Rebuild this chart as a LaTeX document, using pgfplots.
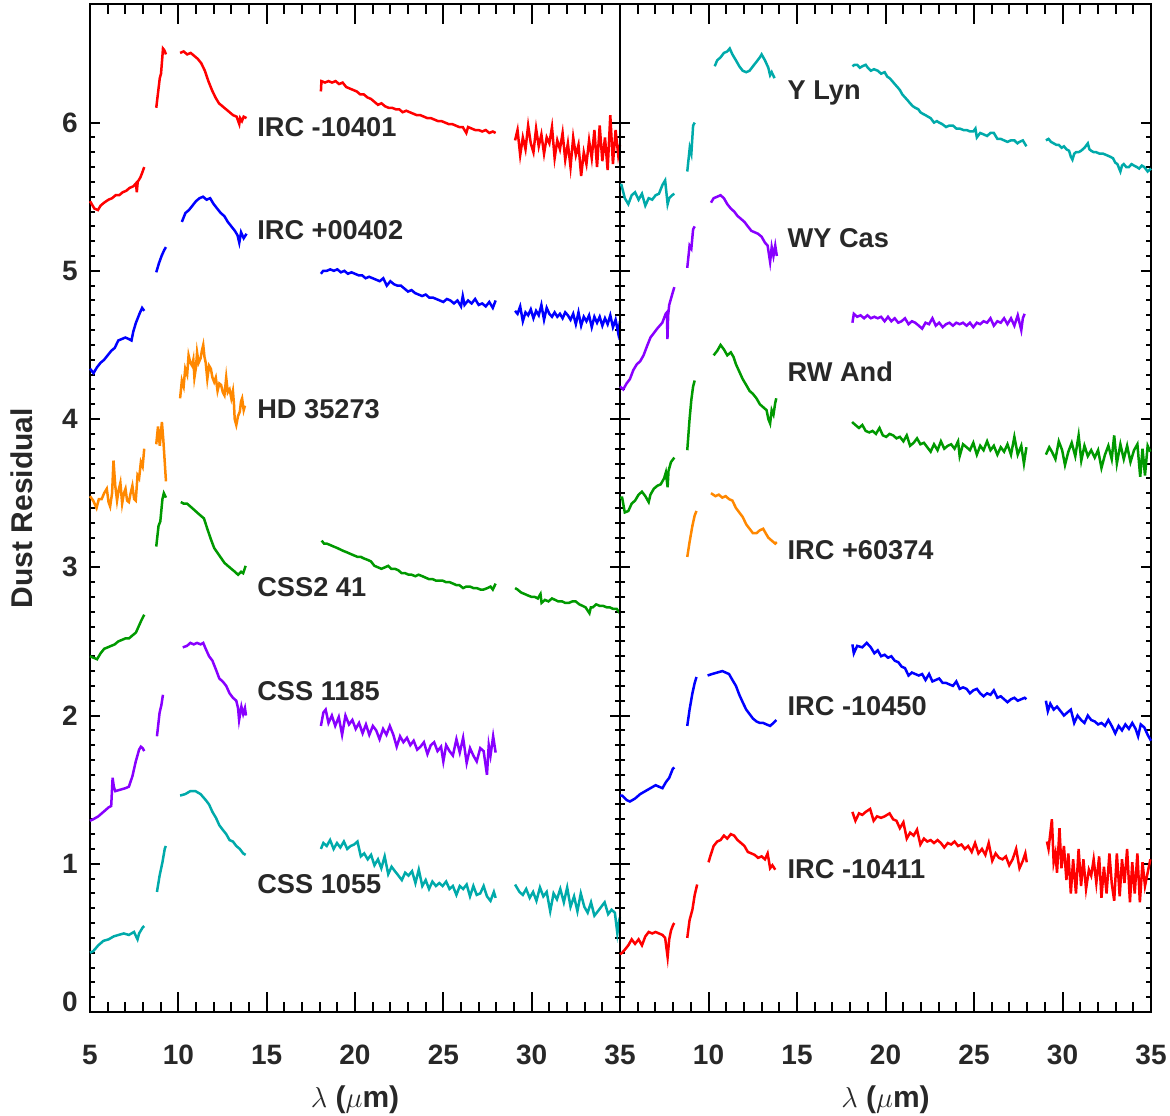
\documentclass[border=0pt]{standalone}
\usepackage{fontspec}
\setmainfont{Liberation Sans}
\usepackage{pgfplots}
\pgfplotsset{compat=1.18}

\definecolor{sred}{RGB}{255,0,0}
\definecolor{sblue}{RGB}{0,0,255}
\definecolor{sorange}{RGB}{255,136,0}
\definecolor{sgreen}{RGB}{0,153,0}
\definecolor{spurple}{RGB}{136,0,255}
\definecolor{steal}{RGB}{0,170,170}
\definecolor{txt}{RGB}{40,40,40}

\newcommand{\lbl}{\fontsize{13.6}{16}\selectfont\bfseries}
\newcommand{\tlbl}{\fontsize{14}{16}\selectfont\bfseries}
\newcommand{\albl}{\fontsize{15}{18}\selectfont\bfseries}

\tikzset{slabel/.style={font=\lbl, text=txt, anchor=base west, inner sep=0pt}}

\pgfplotsset{
  frame/.style={
    scale only axis, height=504pt,
    xmin=5, xmax=35, ymin=0, ymax=6.8,
    xtick={5,10,...,35}, minor x tick num=4,
    tick pos=both, tick align=inside,
    every tick/.style={black, line width=1pt},
  },
  panel/.style={
    frame,
    ytick={0,...,6}, minor y tick num=9,
    xticklabel pos=left, yticklabel pos=left,
    major tick length=5pt, minor tick length=2.5pt,
    axis line style={line width=1pt},
    ticklabel style={font=\tlbl, text=txt},
    /pgf/number format/assume math mode=true,
    xticklabel style={anchor=center, yshift=-21.5pt},
    yticklabel style={anchor=east, inner sep=0pt, xshift=-6pt},
    unbounded coords=jump,
    clip=false,
    xlabel={$\lambda$ ($\mu$m)},
    xlabel style={font=\albl, text=txt, at={(axis description cs:0.5,-0.0873)}, anchor=center},
    every axis plot/.append style={line width=1.25pt},
  },
  % long x ticks only (x ticks are twice as long as y ticks)
  xticks/.style={
    frame,
    ytick=\empty, xticklabels={},
    major tick length=10pt, minor tick length=5pt,
    axis line style={draw=none},
  },
}

\begin{document}
\begin{tikzpicture}
\begin{axis}[panel, name=L, width=265pt,
  yticklabels={,1,2,3,4,5,6},
  ylabel={Dust Residual},
  ylabel style={font=\albl, text=txt, at={(axis description cs:-0.1283,0.5)}, anchor=center},
]
% IRC -10401
\addplot[sred] coordinates {
(5.0,5.47) (5.1,5.45) (5.25,5.42) (5.45,5.41) (5.6,5.44) (5.8,5.46) (6.05,5.48) (6.25,5.49) (6.45,5.51) (6.65,5.51) (6.85,5.53) (7.05,5.54) (7.25,5.56) (7.45,5.57) (7.6,5.59) (7.65,5.53) (7.7,5.60) (7.85,5.63) (7.95,5.66) (8.07,5.70)
(8.4,nan)
(8.75,6.10) (8.85,6.20) (8.95,6.30) (9.02,6.33) (9.1,6.45) (9.13,6.50) (9.2,6.49) (9.3,6.46)
(9.7,nan)
(10.1,6.47) (10.3,6.48) (10.5,6.46) (10.7,6.47) (10.9,6.45) (11.1,6.43) (11.3,6.40) (11.5,6.35) (11.7,6.28) (11.9,6.22) (12.1,6.17) (12.3,6.13) (12.5,6.11) (12.7,6.09) (12.9,6.07) (13.1,6.05) (13.3,6.04) (13.45,5.99) (13.5,6.03) (13.6,6.01) (13.7,6.04) (13.86,6.03)
(16,nan)
(18.07,6.21) (18.1,6.28) (18.3,6.27) (18.5,6.28) (18.7,6.27) (18.9,6.28) (19.1,6.26) (19.3,6.27) (19.5,6.24) (19.7,6.23) (19.9,6.22) (20.1,6.21) (20.3,6.19) (20.5,6.19) (20.7,6.17) (20.9,6.16) (21.1,6.14) (21.3,6.12) (21.5,6.13) (21.7,6.11) (21.9,6.10) (22.1,6.10) (22.3,6.09) (22.5,6.09) (22.7,6.07) (22.9,6.08) (23.1,6.07) (23.3,6.06) (23.5,6.05) (23.7,6.05) (23.9,6.04) (24.1,6.03) (24.3,6.03) (24.5,6.02) (24.7,6.01) (24.9,6.01) (25.1,6.00) (25.3,5.99) (25.5,5.99) (25.7,5.98) (25.9,5.97) (26.1,5.97) (26.3,5.93) (26.4,5.97) (26.6,5.96) (26.8,5.95) (27.0,5.95) (27.2,5.94) (27.4,5.95) (27.6,5.93) (27.8,5.94) (27.96,5.93)
(28.5,nan)
(29.06,5.88) (29.2,5.95) (29.35,5.78) (29.5,5.90) (29.65,5.82) (29.8,5.98) (29.95,5.86) (30.1,5.80) (30.25,5.96) (30.4,5.84) (30.55,5.92) (30.7,5.79) (30.85,5.90) (31.0,5.86) (31.15,5.97) (31.3,5.76) (31.45,5.88) (31.6,5.82) (31.75,5.93) (31.9,5.75) (32.05,5.86) (32.2,5.70) (32.35,5.90) (32.5,5.78) (32.65,5.85) (32.8,5.64) (32.95,5.80) (33.1,5.72) (33.25,5.88) (33.4,5.76) (33.55,5.95) (33.7,5.70) (33.85,5.98) (34.0,5.74) (34.15,5.90) (34.3,5.68) (34.45,6.05) (34.6,5.72) (34.75,5.95) (34.9,5.78) (35.0,5.85)
};
% IRC +00402
\addplot[sblue] coordinates {
(5.0,4.34) (5.2,4.31) (5.4,4.35) (5.6,4.38) (5.8,4.40) (6.0,4.43) (6.2,4.46) (6.4,4.48) (6.6,4.53) (6.8,4.54) (7.0,4.55) (7.2,4.54) (7.35,4.53) (7.45,4.59) (7.6,4.65) (7.8,4.71) (7.95,4.75) (8.07,4.73)
(8.4,nan)
(8.75,4.99) (8.9,5.05) (9.05,5.10) (9.2,5.14) (9.3,5.16)
(9.7,nan)
(10.2,5.33) (10.4,5.39) (10.6,5.41) (10.8,5.44) (11.0,5.47) (11.2,5.49) (11.4,5.50) (11.6,5.48) (11.8,5.49) (12.0,5.45) (12.2,5.42) (12.4,5.39) (12.6,5.37) (12.8,5.33) (13.0,5.30) (13.2,5.27) (13.35,5.24) (13.45,5.19) (13.55,5.26) (13.7,5.22) (13.86,5.25)
(16,nan)
(18.07,4.98) (18.2,5.00) (18.4,5.00) (18.6,5.01) (18.8,5.00) (19.0,5.01) (19.2,4.99) (19.4,5.00) (19.6,4.98) (19.8,4.99) (20.0,4.98) (20.2,4.97) (20.4,4.97) (20.6,4.95) (20.8,4.96) (21.0,4.95) (21.2,4.94) (21.4,4.93) (21.6,4.95) (21.8,4.90) (22.0,4.93) (22.2,4.91) (22.4,4.90) (22.6,4.90) (22.8,4.88) (23.0,4.86) (23.2,4.87) (23.4,4.85) (23.6,4.84) (23.8,4.83) (24.0,4.84) (24.2,4.82) (24.4,4.82) (24.6,4.81) (24.8,4.80) (25.0,4.79) (25.2,4.81) (25.4,4.80) (25.6,4.78) (25.8,4.80) (26.0,4.76) (26.1,4.83) (26.2,4.77) (26.4,4.80) (26.6,4.78) (26.8,4.81) (27.0,4.77) (27.2,4.78) (27.4,4.76) (27.6,4.79) (27.8,4.75) (27.96,4.80)
(28.5,nan)
(29.06,4.73) (29.2,4.71) (29.35,4.76) (29.5,4.66) (29.65,4.72) (29.8,4.70) (29.95,4.74) (30.1,4.68) (30.25,4.73) (30.4,4.70) (30.55,4.77) (30.7,4.67) (30.85,4.75) (31.0,4.71) (31.15,4.69) (31.3,4.72) (31.45,4.69) (31.6,4.71) (31.75,4.68) (31.9,4.72) (32.05,4.70) (32.2,4.67) (32.35,4.71) (32.5,4.64) (32.65,4.72) (32.8,4.63) (32.95,4.69) (33.1,4.66) (33.25,4.70) (33.4,4.62) (33.55,4.69) (33.7,4.65) (33.85,4.69) (34.0,4.63) (34.15,4.68) (34.3,4.64) (34.45,4.70) (34.6,4.62) (34.75,4.67) (34.9,4.58) (35.0,4.66)
};
% HD 35273
\addplot[sorange] coordinates {
(5.0,3.48) (5.18,3.45) (5.37,3.40) (5.5,3.46) (5.66,3.46) (5.8,3.50) (5.95,3.53) (6.05,3.44) (6.14,3.41) (6.25,3.50) (6.33,3.72) (6.43,3.55) (6.53,3.45) (6.62,3.52) (6.72,3.57) (6.82,3.43) (6.92,3.50) (7.01,3.53) (7.1,3.45) (7.20,3.44) (7.3,3.50) (7.40,3.55) (7.5,3.46) (7.59,3.45) (7.69,3.62) (7.78,3.60) (7.88,3.71) (7.98,3.68) (8.07,3.80)
(8.4,nan)
(8.75,3.83) (8.85,3.95) (8.95,3.82) (9.07,3.98) (9.15,3.86) (9.22,3.73) (9.3,3.58)
(9.7,nan)
(10.10,4.14) (10.20,4.26) (10.3,4.22) (10.39,4.34) (10.5,4.30) (10.58,4.43) (10.68,4.38) (10.78,4.36) (10.85,4.40) (10.91,4.28) (11.0,4.35) (11.06,4.45) (11.15,4.38) (11.26,4.41) (11.33,4.46) (11.41,4.50) (11.48,4.42) (11.55,4.38) (11.64,4.27) (11.74,4.36) (11.84,4.34) (11.93,4.28) (12.03,4.25) (12.12,4.28) (12.22,4.19) (12.32,4.24) (12.42,4.23) (12.52,4.18) (12.61,4.16) (12.71,4.28) (12.80,4.18) (12.9,4.20) (13.0,4.14) (13.09,4.19) (13.15,4.10) (13.19,4.00) (13.28,3.96) (13.38,4.02) (13.48,4.05) (13.55,4.12) (13.61,4.14) (13.7,4.06) (13.77,4.09)
};
% CSS2 41
\addplot[sgreen] coordinates {
(5.0,2.40) (5.2,2.39) (5.4,2.38) (5.6,2.42) (5.8,2.45) (6.0,2.46) (6.2,2.47) (6.4,2.48) (6.6,2.50) (6.8,2.51) (7.0,2.52) (7.2,2.52) (7.4,2.54) (7.6,2.56) (7.75,2.60) (7.9,2.64) (8.07,2.68)
(8.4,nan)
(8.75,3.14) (8.88,3.28) (8.98,3.31) (9.1,3.46) (9.18,3.50) (9.3,3.47)
(9.7,nan)
(10.14,3.44) (10.3,3.43) (10.49,3.43) (10.78,3.40) (11.06,3.37) (11.25,3.35) (11.45,3.33) (11.64,3.26) (11.84,3.19) (12.03,3.13) (12.32,3.08) (12.61,3.03) (12.8,3.01) (13.0,2.99) (13.2,2.97) (13.38,2.95) (13.55,2.97) (13.67,2.96) (13.81,3.01)
(16,nan)
(18.11,3.18) (18.25,3.16) (18.4,3.16) (18.6,3.15) (18.79,3.14) (19.0,3.13) (19.17,3.12) (19.35,3.11) (19.56,3.10) (19.75,3.09) (19.95,3.08) (20.15,3.07) (20.33,3.07) (20.5,3.06) (20.72,3.05) (20.9,3.04) (21.1,3.01) (21.3,3.00) (21.49,2.99) (21.7,3.00) (21.88,3.01) (22.05,2.99) (22.26,2.99) (22.45,2.98) (22.65,2.96) (22.85,2.96) (23.03,2.95) (23.2,2.95) (23.42,2.94) (23.6,2.95) (23.81,2.94) (24.0,2.93) (24.19,2.92) (24.4,2.92) (24.58,2.91) (24.8,2.91) (24.96,2.91) (25.15,2.90) (25.35,2.90) (25.55,2.89) (25.74,2.88) (25.9,2.88) (26.12,2.86) (26.3,2.87) (26.51,2.87) (26.7,2.86) (26.89,2.86) (27.1,2.85) (27.28,2.85) (27.5,2.86) (27.67,2.87) (27.8,2.85) (27.96,2.89)
(28.5,nan)
(29.06,2.86) (29.2,2.85) (29.4,2.83) (29.6,2.82) (29.79,2.81) (30.0,2.80) (30.18,2.80) (30.35,2.79) (30.5,2.82) (30.56,2.76) (30.75,2.78) (30.95,2.77) (31.15,2.79) (31.33,2.78) (31.5,2.77) (31.72,2.77) (31.9,2.76) (32.11,2.76) (32.3,2.77) (32.49,2.77) (32.7,2.75) (32.88,2.74) (33.05,2.73) (33.27,2.69) (33.35,2.73) (33.46,2.73) (33.65,2.75) (33.85,2.74) (34.04,2.74) (34.25,2.73) (34.42,2.73) (34.6,2.72) (34.81,2.72) (35.0,2.69)
};
% CSS 1185
\addplot[spurple] coordinates {
(5.0,1.29) (5.18,1.30) (5.47,1.32) (5.76,1.35) (6.05,1.38) (6.20,1.39) (6.28,1.58) (6.35,1.52) (6.43,1.49) (6.72,1.50) (7.01,1.51) (7.20,1.52) (7.40,1.59) (7.59,1.69) (7.78,1.77) (7.88,1.79) (7.98,1.78) (8.07,1.76)
(8.4,nan)
(8.79,1.86) (8.94,2.02) (9.04,2.07) (9.13,2.14)
(9.7,nan)
(10.25,2.46) (10.49,2.47) (10.68,2.49) (10.87,2.48) (11.06,2.49) (11.26,2.48) (11.41,2.49) (11.55,2.45) (11.74,2.40) (11.93,2.37) (12.13,2.31) (12.32,2.25) (12.51,2.23) (12.71,2.20) (12.90,2.15) (13.09,2.12) (13.28,2.10) (13.38,2.05) (13.44,1.97) (13.57,2.06) (13.67,2.01) (13.77,2.05) (13.83,2.00)
(16,nan)
(18.07,1.93) (18.21,2.02) (18.34,2.04) (18.50,1.95) (18.69,2.00) (18.88,1.93) (19.08,1.99) (19.27,1.87) (19.46,2.00) (19.66,1.94) (19.85,1.97) (20.04,1.91) (20.23,1.95) (20.43,1.88) (20.62,1.94) (20.81,1.87) (21.01,1.93) (21.20,1.90) (21.39,1.84) (21.59,1.91) (21.78,1.87) (21.97,1.93) (22.17,1.87) (22.36,1.79) (22.55,1.86) (22.74,1.82) (22.94,1.85) (23.13,1.80) (23.32,1.83) (23.52,1.77) (23.71,1.79) (23.90,1.82) (24.10,1.74) (24.29,1.80) (24.48,1.82) (24.67,1.76) (24.87,1.79) (25.00,1.69) (25.16,1.80) (25.35,1.76) (25.54,1.73) (25.74,1.84) (25.93,1.75) (26.12,1.85) (26.32,1.68) (26.51,1.78) (26.70,1.73) (26.89,1.69) (27.09,1.78) (27.28,1.76) (27.47,1.60) (27.57,1.80) (27.67,1.73) (27.82,1.86) (27.96,1.75)
};
% CSS 1055
\addplot[steal] coordinates {
(5.0,0.40) (5.18,0.41) (5.47,0.45) (5.76,0.48) (6.05,0.49) (6.34,0.51) (6.62,0.52) (6.91,0.53) (7.20,0.52) (7.49,0.54) (7.69,0.49) (7.78,0.53) (7.98,0.57) (8.07,0.58)
(8.4,nan)
(8.79,0.81) (8.94,0.92) (9.1,1.01) (9.23,1.10) (9.29,1.12)
(9.7,nan)
(10.10,1.46) (10.39,1.47) (10.68,1.49) (10.97,1.49) (11.26,1.47) (11.55,1.43) (11.74,1.40) (11.93,1.35) (12.13,1.31) (12.32,1.26) (12.51,1.23) (12.71,1.20) (12.90,1.16) (13.09,1.15) (13.28,1.12) (13.48,1.10) (13.67,1.07) (13.81,1.06)
(16,nan)
(18.07,1.10) (18.21,1.14) (18.40,1.12) (18.59,1.16) (18.79,1.10) (18.98,1.14) (19.17,1.11) (19.37,1.15) (19.56,1.10) (19.75,1.12) (19.95,1.13) (20.14,1.15) (20.33,1.05) (20.52,1.07) (20.72,1.03) (20.91,1.06) (21.10,0.99) (21.30,1.03) (21.49,0.97) (21.68,1.05) (21.88,0.93) (22.07,0.98) (22.26,0.95) (22.46,0.92) (22.65,0.89) (22.84,0.94) (23.03,0.92) (23.23,0.95) (23.42,0.87) (23.61,0.96) (23.81,0.85) (24.00,0.89) (24.19,0.83) (24.38,0.88) (24.58,0.85) (24.77,0.87) (24.96,0.85) (25.16,0.88) (25.35,0.83) (25.54,0.85) (25.74,0.79) (25.93,0.85) (26.12,0.83) (26.32,0.86) (26.51,0.78) (26.70,0.85) (26.89,0.79) (27.09,0.80) (27.28,0.85) (27.47,0.78) (27.67,0.75) (27.86,0.81) (27.96,0.77)
(28.5,nan)
(29.06,0.86) (29.31,0.81) (29.50,0.79) (29.69,0.83) (29.89,0.77) (30.08,0.81) (30.27,0.75) (30.47,0.84) (30.66,0.78) (30.85,0.81) (31.05,0.68) (31.24,0.80) (31.43,0.76) (31.62,0.83) (31.82,0.74) (32.01,0.84) (32.20,0.71) (32.40,0.78) (32.59,0.68) (32.78,0.80) (32.98,0.71) (33.17,0.67) (33.36,0.74) (33.55,0.65) (33.75,0.68) (33.94,0.71) (34.13,0.74) (34.33,0.66) (34.52,0.69) (34.71,0.67) (34.85,0.53) (34.96,0.62) (35.0,0.64)
};
\node[slabel] at (axis cs:14.45,5.907) {IRC -10401};
\node[slabel] at (axis cs:14.45,5.209) {IRC +00402};
\node[slabel] at (axis cs:14.45,4.005) {HD 35273};
\node[slabel] at (axis cs:14.45,2.802) {CSS2 41};
\node[slabel] at (axis cs:14.45,2.101) {CSS 1185};
\node[slabel] at (axis cs:14.45,0.797) {CSS 1055};
\node[font=\tlbl, text=txt, anchor=east, inner sep=0pt, xshift=-6pt, yshift=5pt] at (axis cs:5,0) {0};
\end{axis}
\begin{axis}[xticks, width=265pt]
\end{axis}

\begin{axis}[panel, name=R, width=265.5pt, at={(L.south east)}, anchor=south west,
  yticklabels={},
  xticklabels={,10,15,20,25,30,35},
]
% Y Lyn
\addplot[steal] coordinates {
(5.0,5.58) (5.08,5.58) (5.27,5.49) (5.47,5.45) (5.66,5.51) (5.85,5.53) (6.05,5.48) (6.24,5.52) (6.43,5.44) (6.62,5.49) (6.82,5.48) (7.01,5.51) (7.20,5.52) (7.40,5.58) (7.55,5.61) (7.69,5.45) (7.78,5.49) (7.94,5.51) (8.07,5.52)
(8.4,nan)
(8.8,5.67) (8.94,5.83) (9.03,5.79) (9.13,5.98) (9.22,6.00)
(9.7,nan)
(10.35,6.38) (10.49,6.42) (10.68,6.44) (10.87,6.47) (11.06,6.48) (11.20,6.50) (11.35,6.46) (11.55,6.42) (11.74,6.38) (11.93,6.35) (12.13,6.34) (12.32,6.35) (12.51,6.38) (12.71,6.41) (12.90,6.44) (13.0,6.46) (13.19,6.42) (13.38,6.37) (13.48,6.32) (13.57,6.34) (13.73,6.30)
(16,nan)
(18.13,6.38) (18.25,6.39) (18.40,6.39) (18.55,6.37) (18.69,6.38) (18.88,6.39) (19.0,6.37) (19.17,6.35) (19.35,6.36) (19.56,6.35) (19.75,6.33) (19.95,6.34) (20.1,6.31) (20.23,6.30) (20.38,6.28) (20.52,6.26) (20.67,6.24) (20.81,6.22) (20.95,6.19) (21.10,6.17) (21.25,6.15) (21.39,6.13) (21.55,6.11) (21.68,6.10) (21.85,6.09) (21.97,6.07) (22.1,6.06) (22.26,6.05) (22.4,6.04) (22.55,6.03) (22.74,6.00) (22.9,6.01) (23.03,6.00) (23.2,5.99) (23.42,5.97) (23.6,5.98) (23.81,5.98) (24.0,5.96) (24.19,5.96) (24.4,5.95) (24.58,5.95) (24.78,5.94) (24.96,5.94) (25.08,5.96) (25.16,5.90) (25.35,5.93) (25.55,5.92) (25.74,5.91) (25.93,5.93) (26.12,5.93) (26.32,5.89) (26.51,5.89) (26.7,5.88) (26.89,5.87) (27.08,5.88) (27.28,5.88) (27.45,5.86) (27.57,5.87) (27.76,5.88) (27.96,5.84)
(28.5,nan)
(29.06,5.88) (29.21,5.89) (29.35,5.87) (29.50,5.86) (29.65,5.85) (29.79,5.85) (29.95,5.83) (30.08,5.84) (30.22,5.82) (30.37,5.81) (30.47,5.77) (30.56,5.75) (30.66,5.79) (30.76,5.80) (30.9,5.80) (31.05,5.81) (31.24,5.83) (31.43,5.86) (31.52,5.82) (31.62,5.81) (31.77,5.80) (31.91,5.80) (32.1,5.79) (32.30,5.79) (32.5,5.78) (32.69,5.77) (32.85,5.76) (32.98,5.73) (33.1,5.72) (33.27,5.67) (33.36,5.71) (33.46,5.72) (33.6,5.70) (33.75,5.70) (33.9,5.72) (34.04,5.71) (34.2,5.70) (34.33,5.69) (34.48,5.71) (34.62,5.70) (34.81,5.67) (35.0,5.69)
};
% WY Cas
\addplot[spurple] coordinates {
(5.0,4.22) (5.18,4.20) (5.37,4.24) (5.56,4.27) (5.75,4.33) (5.95,4.37) (6.14,4.39) (6.33,4.43) (6.52,4.49) (6.72,4.55) (6.91,4.58) (7.1,4.61) (7.39,4.65) (7.58,4.71) (7.65,4.72) (7.68,4.54) (7.72,4.70) (7.78,4.77) (7.97,4.85) (8.07,4.89)
(8.4,nan)
(8.8,5.02) (8.93,5.17) (9.03,5.15) (9.13,5.28) (9.22,5.30)
(9.7,nan)
(10.14,5.46) (10.29,5.49) (10.49,5.50) (10.68,5.51) (10.87,5.49) (11.06,5.45) (11.26,5.42) (11.45,5.40) (11.64,5.37) (11.84,5.35) (12.03,5.33) (12.22,5.30) (12.42,5.27) (12.61,5.26) (12.80,5.25) (13.0,5.23) (13.19,5.19) (13.34,5.17) (13.48,5.06) (13.57,5.16) (13.67,5.10) (13.77,5.17) (13.86,5.10)
(16,nan)
(18.13,4.65) (18.21,4.71) (18.40,4.69) (18.59,4.70) (18.79,4.68) (18.98,4.70) (19.17,4.68) (19.37,4.69) (19.56,4.68) (19.75,4.69) (19.95,4.66) (20.14,4.69) (20.33,4.66) (20.52,4.68) (20.72,4.65) (20.91,4.66) (21.10,4.68) (21.30,4.64) (21.49,4.66) (21.68,4.65) (21.88,4.63) (22.07,4.61) (22.26,4.65) (22.46,4.64) (22.65,4.68) (22.84,4.63) (23.03,4.65) (23.23,4.62) (23.42,4.64) (23.61,4.65) (23.81,4.63) (24.00,4.65) (24.19,4.64) (24.38,4.65) (24.58,4.63) (24.77,4.65) (24.96,4.62) (25.16,4.65) (25.35,4.64) (25.54,4.66) (25.74,4.65) (25.93,4.68) (26.12,4.63) (26.32,4.66) (26.51,4.65) (26.70,4.68) (26.89,4.64) (27.09,4.68) (27.28,4.63) (27.47,4.70) (27.67,4.60) (27.76,4.68) (27.86,4.71)
};
% RW And
\addplot[sgreen] coordinates {
(5.0,3.47) (5.12,3.47) (5.27,3.37) (5.47,3.38) (5.66,3.43) (5.85,3.45) (6.05,3.49) (6.24,3.51) (6.43,3.48) (6.62,3.44) (6.72,3.49) (6.91,3.53) (7.11,3.55) (7.30,3.56) (7.49,3.60) (7.59,3.64) (7.69,3.54) (7.74,3.65) (7.88,3.71) (8.07,3.74)
(8.4,nan)
(8.8,3.79) (8.93,4.00) (9.03,4.13) (9.13,4.22) (9.22,4.26)
(9.7,nan)
(10.29,4.43) (10.49,4.46) (10.68,4.50) (10.87,4.47) (11.06,4.43) (11.26,4.45) (11.41,4.42) (11.55,4.37) (11.74,4.32) (11.93,4.27) (12.13,4.23) (12.32,4.19) (12.51,4.17) (12.71,4.14) (12.90,4.10) (13.09,4.08) (13.28,4.06) (13.38,4.00) (13.48,3.97) (13.57,4.06) (13.67,4.03) (13.77,4.11) (13.83,4.14)
(16,nan)
(18.11,3.98) (18.30,3.96) (18.50,3.94) (18.69,3.96) (18.88,3.92) (19.08,3.91) (19.27,3.92) (19.46,3.90) (19.66,3.94) (19.85,3.89) (20.04,3.88) (20.23,3.90) (20.43,3.89) (20.62,3.87) (20.81,3.88) (21.01,3.85) (21.20,3.89) (21.39,3.82) (21.59,3.84) (21.78,3.87) (21.97,3.83) (22.17,3.84) (22.36,3.81) (22.55,3.78) (22.74,3.83) (22.94,3.79) (23.13,3.85) (23.32,3.80) (23.52,3.82) (23.71,3.83) (23.90,3.80) (24.10,3.85) (24.19,3.75) (24.38,3.83) (24.58,3.81) (24.77,3.79) (24.96,3.84) (25.16,3.76) (25.35,3.82) (25.54,3.79) (25.74,3.85) (25.93,3.79) (26.12,3.82) (26.32,3.76) (26.51,3.81) (26.70,3.78) (26.89,3.83) (27.09,3.76) (27.28,3.88) (27.47,3.76) (27.67,3.82) (27.82,3.70) (27.96,3.81)
(28.5,nan)
(29.06,3.76) (29.25,3.81) (29.40,3.78) (29.60,3.73) (29.79,3.85) (29.98,3.79) (30.14,3.69) (30.33,3.78) (30.52,3.84) (30.72,3.75) (30.91,3.89) (31.06,3.72) (31.24,3.82) (31.43,3.75) (31.62,3.79) (31.82,3.74) (32.01,3.79) (32.20,3.67) (32.40,3.76) (32.59,3.82) (32.78,3.73) (32.92,3.89) (33.07,3.70) (33.27,3.83) (33.46,3.73) (33.65,3.82) (33.84,3.71) (34.04,3.79) (34.23,3.83) (34.39,3.61) (34.52,3.80) (34.66,3.62) (34.81,3.82) (34.96,3.78)
};
% IRC +60374
\addplot[sorange] coordinates {
(8.8,3.07) (8.93,3.17) (9.09,3.28) (9.22,3.35) (9.32,3.38)
(9.7,nan)
(10.14,3.50) (10.39,3.48) (10.58,3.49) (10.78,3.47) (10.97,3.48) (11.16,3.46) (11.35,3.45) (11.55,3.40) (11.74,3.37) (11.93,3.34) (12.13,3.29) (12.32,3.26) (12.51,3.23) (12.71,3.23) (12.90,3.25) (13.09,3.26) (13.23,3.23) (13.38,3.20) (13.57,3.18) (13.77,3.16) (13.86,3.17)
};
% IRC -10450
\addplot[sblue] coordinates {
(5.0,1.46) (5.12,1.46) (5.37,1.43) (5.56,1.42) (5.85,1.44) (6.14,1.47) (6.43,1.49) (6.72,1.51) (7.01,1.53) (7.20,1.52) (7.40,1.51) (7.59,1.55) (7.78,1.58) (7.98,1.64) (8.07,1.65)
(8.4,nan)
(8.8,1.93) (8.93,2.04) (9.09,2.15) (9.22,2.22) (9.32,2.26)
(9.6,nan)
(9.95,2.27) (10.20,2.28) (10.49,2.29) (10.78,2.30) (10.97,2.29) (11.16,2.28) (11.35,2.24) (11.55,2.20) (11.74,2.14) (11.93,2.09) (12.13,2.04) (12.32,2.01) (12.51,1.98) (12.71,1.96) (12.90,1.95) (13.09,1.95) (13.28,1.94) (13.48,1.93) (13.67,1.95) (13.83,1.97)
(16,nan)
(18.13,2.48) (18.21,2.42) (18.40,2.47) (18.69,2.46) (18.94,2.49) (19.17,2.46) (19.37,2.42) (19.56,2.44) (19.75,2.40) (19.95,2.41) (20.14,2.39) (20.33,2.40) (20.52,2.37) (20.72,2.36) (20.91,2.33) (21.10,2.32) (21.30,2.27) (21.49,2.29) (21.68,2.28) (21.88,2.27) (22.07,2.28) (22.26,2.24) (22.46,2.28) (22.65,2.23) (22.84,2.24) (23.03,2.25) (23.23,2.22) (23.42,2.22) (23.61,2.21) (23.81,2.20) (24.00,2.23) (24.19,2.18) (24.38,2.19) (24.58,2.18) (24.77,2.15) (24.96,2.17) (25.16,2.18) (25.35,2.15) (25.54,2.13) (25.74,2.15) (25.93,2.14) (26.12,2.17) (26.32,2.12) (26.51,2.13) (26.70,2.11) (26.89,2.09) (27.09,2.11) (27.28,2.12) (27.47,2.10) (27.67,2.11) (27.86,2.12) (27.96,2.11)
(28.5,nan)
(29.06,2.10) (29.17,2.03) (29.31,2.08) (29.50,2.04) (29.69,2.06) (29.89,2.03) (30.08,2.00) (30.27,2.02) (30.47,2.04) (30.66,1.95) (30.85,2.00) (31.05,1.97) (31.24,1.95) (31.43,2.00) (31.62,1.97) (31.82,1.96) (32.01,1.94) (32.20,1.95) (32.40,1.93) (32.59,1.97) (32.78,1.93) (32.98,1.88) (33.17,1.93) (33.36,1.90) (33.55,1.94) (33.75,1.91) (33.94,1.95) (34.13,1.91) (34.27,1.86) (34.42,1.94) (34.62,1.92) (34.81,1.87) (35.0,1.83)
};
% IRC -10411
\addplot[sred] coordinates {
(5.0,0.39) (5.12,0.40) (5.27,0.42) (5.47,0.45) (5.66,0.49) (5.85,0.46) (6.05,0.49) (6.24,0.45) (6.43,0.51) (6.62,0.54) (6.82,0.53) (7.01,0.54) (7.20,0.53) (7.40,0.52) (7.55,0.50) (7.69,0.37) (7.78,0.49) (7.88,0.55) (8.01,0.59) (8.07,0.60)
(8.4,nan)
(8.8,0.50) (8.93,0.62) (9.09,0.69) (9.22,0.79) (9.36,0.86)
(9.7,nan)
(10.0,1.01) (10.10,1.05) (10.29,1.12) (10.49,1.15) (10.68,1.16) (10.87,1.19) (11.06,1.17) (11.26,1.20) (11.45,1.19) (11.64,1.16) (11.84,1.14) (12.03,1.12) (12.22,1.08) (12.42,1.07) (12.61,1.06) (12.80,1.04) (13.0,1.05) (13.19,1.03) (13.34,1.07) (13.48,0.97) (13.61,0.99) (13.77,0.96)
(16,nan)
(18.13,1.35) (18.30,1.29) (18.50,1.34) (18.69,1.33) (18.88,1.35) (19.13,1.37) (19.33,1.29) (19.52,1.32) (19.75,1.31) (19.95,1.32) (20.23,1.34) (20.43,1.30) (20.62,1.29) (20.81,1.24) (21.01,1.28) (21.20,1.17) (21.39,1.21) (21.59,1.19) (21.78,1.23) (21.97,1.13) (22.17,1.17) (22.36,1.15) (22.55,1.16) (22.74,1.14) (22.94,1.16) (23.13,1.14) (23.32,1.11) (23.52,1.14) (23.71,1.13) (23.90,1.15) (24.10,1.12) (24.29,1.13) (24.48,1.10) (24.67,1.12) (24.87,1.08) (25.06,1.14) (25.25,1.07) (25.45,1.10) (25.64,1.06) (25.83,1.14) (26.03,1.02) (26.22,1.07) (26.41,1.04) (26.61,1.03) (26.80,1.05) (26.99,0.99) (27.18,1.03) (27.38,1.10) (27.57,0.97) (27.76,1.02) (27.90,1.07) (27.98,1.01)
(28.5,nan)
(29.12,1.15) (29.21,1.10) (29.40,1.30) (29.50,1.01) (29.60,1.07) (29.69,0.94) (29.83,1.24) (29.94,0.97) (30.08,1.12) (30.22,0.89) (30.33,1.07) (30.47,0.80) (30.60,1.03) (30.76,0.80) (30.91,1.10) (31.05,0.85) (31.18,1.03) (31.33,0.83) (31.49,0.96) (31.62,0.92) (31.76,1.03) (31.91,0.87) (32.07,1.05) (32.20,0.77) (32.34,0.98) (32.49,0.80) (32.65,1.07) (32.78,0.87) (32.92,0.75) (33.07,1.07) (33.23,0.78) (33.36,1.03) (33.50,0.87) (33.65,1.10) (33.81,0.74) (33.94,1.01) (34.08,0.80) (34.23,1.07) (34.37,0.74) (34.52,1.01) (34.66,0.85) (34.81,0.94) (34.96,1.03)
};
\node[slabel] at (axis cs:14.45,6.157) {Y Lyn};
\node[slabel] at (axis cs:14.45,5.155) {WY Cas};
\node[slabel] at (axis cs:14.45,4.252) {RW And};
\node[slabel] at (axis cs:14.45,3.054) {IRC +60374};
\node[slabel] at (axis cs:14.45,2.000) {IRC -10450};
\node[slabel] at (axis cs:14.45,0.901) {IRC -10411};
\end{axis}
\begin{axis}[xticks, width=265.5pt, at={(L.south east)}, anchor=south west]
\end{axis}
\pgfresetboundingbox
\path[use as bounding box] (-45pt,-51.5pt) rectangle (540pt,506pt);
\end{tikzpicture}
\end{document}
